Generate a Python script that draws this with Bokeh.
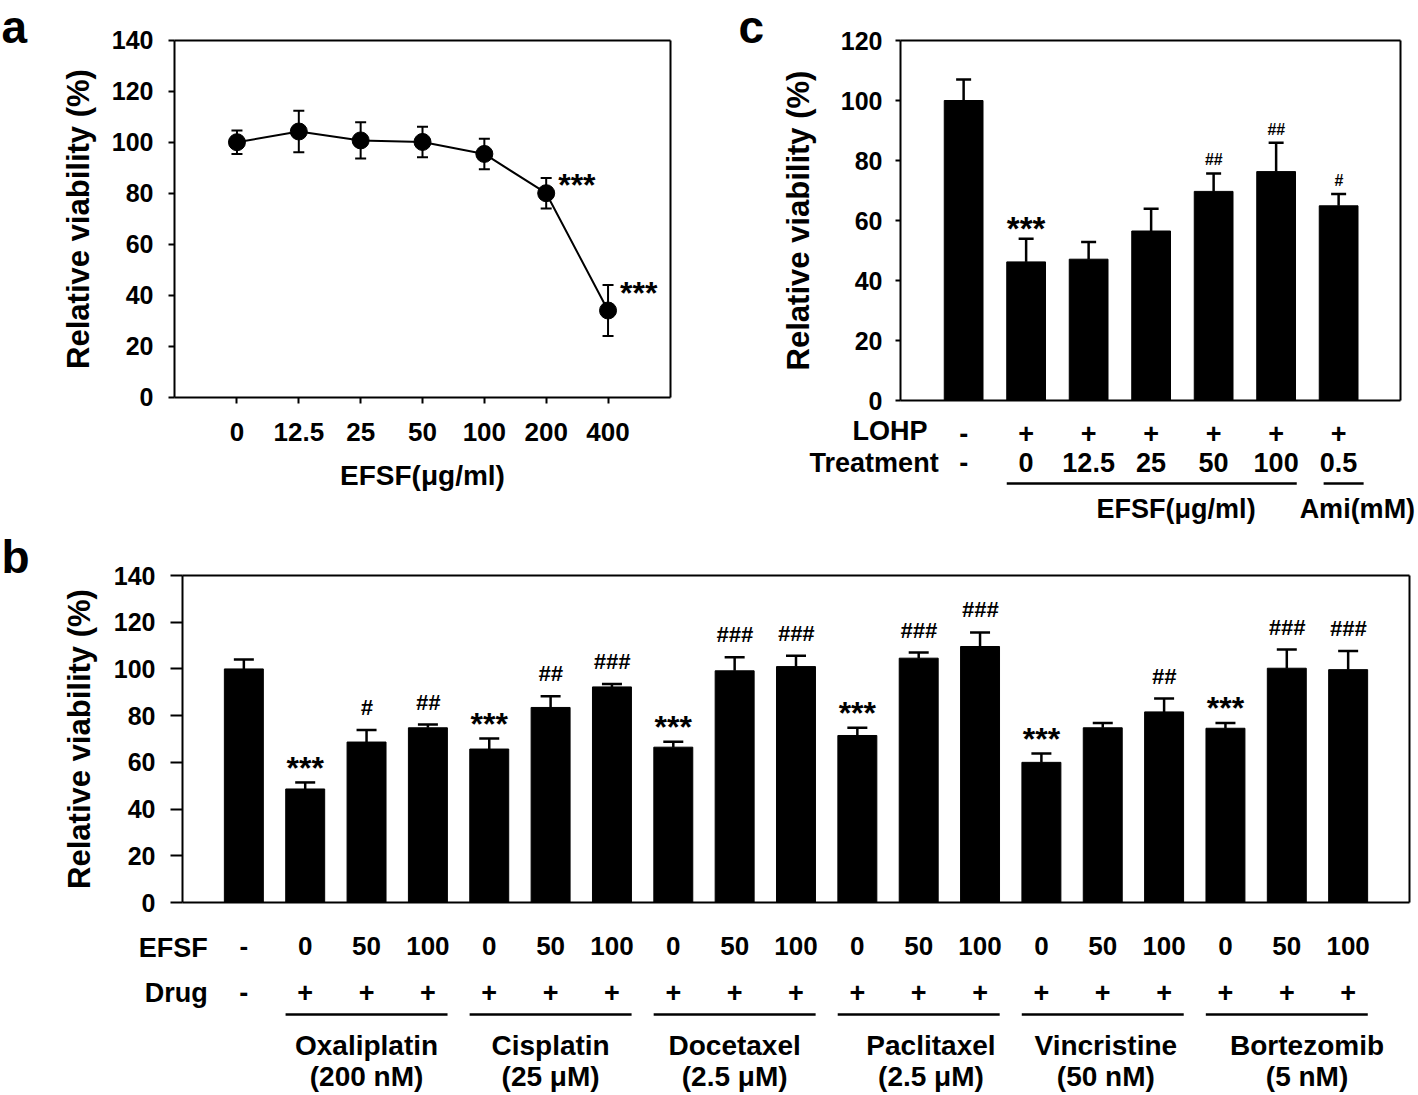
from bokeh.plotting import figure
from bokeh.models import Range1d, FixedTicker, ColumnDataSource, LabelSet, LinearAxis
from bokeh.layouts import column, row
from bokeh.embed import file_html
from bokeh.resources import INLINE
from bokeh.core.properties import value

FONT = "Liberation Sans"

# ---------------- data ----------------
# panel a
a_doses = ["0", "12.5", "25", "50", "100", "200", "400"]
a_mean = [100.0, 104.2, 100.7, 100.1, 95.4, 80.0, 34.0]
a_err = [4.6, 8.1, 7.1, 6.0, 6.0, 6.0, 10.0]
a_sig = ["", "", "", "", "", "***", "***"]

# panel c
c_lohp = ["-", "+", "+", "+", "+", "+", "+"]
c_treat = ["-", "0", "12.5", "25", "50", "100", "0.5"]
c_mean = [100.0, 46.2, 47.1, 56.5, 69.7, 76.3, 64.9]
c_err = [7.0, 7.7, 5.7, 7.4, 6.0, 9.6, 3.9]
c_sig = ["", "***", "", "", "##", "##", "#"]
c_groups = ["EFSF(\u03bcg/ml)", "Ami(mM)"]
c_group_first = [1, 6]
c_group_last = [5, 6]

# panel b
b_efsf = ["-"] + ["0", "50", "100"] * 6
b_drug = ["-"] + ["+"] * 18
b_mean = [100.0, 48.6, 68.7, 74.8, 65.7, 83.5, 92.3, 66.5, 99.2, 101.0,
          71.5, 104.6, 109.6, 60.0, 74.8, 81.6, 74.6, 100.3, 99.7]
b_err = [4.0, 2.8, 5.2, 1.4, 4.5, 4.8, 1.2, 2.3, 5.8, 4.6,
         3.3, 2.4, 6.0, 3.8, 2.1, 5.7, 2.3, 8.0, 8.0]
b_sig = ["", "***", "#", "##", "***", "##", "###", "***", "###", "###",
         "***", "###", "###", "***", "", "##", "***", "###", "###"]
b_drugs = ["Oxaliplatin", "Cisplatin", "Docetaxel", "Paclitaxel", "Vincristine", "Bortezomib"]
b_conc = ["(200 nM)", "(25 \u03bcM)", "(2.5 \u03bcM)", "(2.5 \u03bcM)", "(50 nM)", "(5 nM)"]
b_group_first = [1, 4, 7, 10, 13, 16]
b_group_last = [3, 6, 9, 12, 15, 18]


# ---------------- helpers ----------------
class Panel:
    """Figure whose frame fills the whole canvas; the plot box sits at box_px."""

    def __init__(self, w, h, box_px, box_data):
        l, r, t, b = box_px
        x0, x1, y0, y1 = box_data
        self.box = box_data
        self.top_px = t
        self.kx = (r - l) / (x1 - x0)
        self.ky = (b - t) / (y1 - y0)
        xr = (x0 - l / self.kx, x1 + (w - r) / self.kx)
        yr = (y0 - (h - b) / self.ky, y1 + t / self.ky)
        self.xr, self.yr = xr, yr
        p = figure(width=w, height=h, x_range=Range1d(*xr), y_range=Range1d(*yr),
                   output_backend="svg", toolbar_location=None,
                   min_border_left=0, min_border_right=0,
                   min_border_top=0, min_border_bottom=0)
        p.title.visible = False
        p.outline_line_color = None
        p.xgrid.visible = False
        p.ygrid.visible = False
        p.background_fill_color = "white"
        p.border_fill_color = "white"
        self.p = p
        # axes pinned to the box edges
        self.yax = p.left[0]
        self.yax.fixed_location = x0
        self.yax.bounds = (y0, y1)
        self.xax = p.below[0]
        self.xax.fixed_location = y0
        self.xax.bounds = (x0, x1)
        for side, loc, bnds in (("above", y1, (x0, x1)), ("right", x1, (y0, y1))):
            ax = LinearAxis(fixed_location=loc, bounds=bnds, ticker=FixedTicker(ticks=[]),
                            axis_line_width=2, axis_line_color="black",
                            major_tick_out=0, major_tick_in=0, minor_tick_out=0, minor_tick_in=0,
                            major_label_text_font_size="0px")
            p.add_layout(ax, side)

    def dx(self, px):
        return px / self.kx

    def dy(self, px):
        return px / self.ky

    def y_from_top(self, px):
        """data y of a point px pixels below the canvas top"""
        return self.box[3] + (self.top_px - px) / self.ky


def style_axis(ax, tick_out, standoff, size):
    ax.axis_line_color = "black"
    ax.axis_line_width = 2
    ax.major_tick_line_color = "black"
    ax.major_tick_line_width = 2
    ax.major_tick_out = tick_out
    ax.major_tick_in = 0
    ax.minor_tick_out = 0
    ax.minor_tick_in = 0
    ax.major_label_text_font = FONT
    ax.major_label_text_font_style = "bold"
    ax.major_label_text_font_size = size
    ax.major_label_text_color = "black"
    ax.major_label_standoff = standoff


def style_ylabel(ax, standoff):
    ax.axis_label = "Relative viability (%)"
    ax.axis_label_text_font = FONT
    ax.axis_label_text_font_style = "bold"
    ax.axis_label_text_font_size = "31px"
    ax.axis_label_text_color = "black"
    ax.axis_label_standoff = standoff


def labels(p, xs, ys, texts, size, align="center", style="bold"):
    src = ColumnDataSource(dict(x=list(xs), y=list(ys), text=list(texts)))
    p.add_layout(LabelSet(x="x", y="y", text="text", source=src,
                          text_font=value(FONT), text_font_style=style,
                          text_font_size=size, text_align=align,
                          text_baseline="alphabetic", text_color="black"))


def label(p, x, y, text, size, align="left"):
    labels(p, [x], [y], [text], size, align=align)


def hlines(p, x0s, x1s, y):
    n = len(x0s)
    p.segment(x0=list(x0s), y0=[y] * n, x1=list(x1s), y1=[y] * n,
              line_color="black", line_width=2.5)


LETTER_SIZE = "46px"
LETTER_BASE = 42  # px below canvas top, keeps the whole text box on the canvas

# ---------------- panel a ----------------
A = Panel(700, 530, (174, 670, 39.7, 396.7), (-1.01, 7.01, 0, 140))
pa = A.p
ax_i = list(range(len(a_doses)))

pa.line(ax_i, a_mean, line_color="black", line_width=2)
a_cap = A.dx(5.5)
pa.segment(x0=ax_i, y0=[m - e for m, e in zip(a_mean, a_err)],
           x1=ax_i, y1=[m + e for m, e in zip(a_mean, a_err)],
           line_color="black", line_width=2)
for sgn in (1, -1):
    yy = [m + sgn * e for m, e in zip(a_mean, a_err)]
    pa.segment(x0=[i - a_cap for i in ax_i], y0=yy, x1=[i + a_cap for i in ax_i], y1=yy,
               line_color="black", line_width=2)
pa.scatter(ax_i, a_mean, size=17, marker="circle", fill_color="black", line_color="black")

sx, sy, st = [], [], []
for i, (m, e, s) in enumerate(zip(a_mean, a_err, a_sig)):
    if s:
        sx.append(i + A.dx(12))
        sy.append(m + e - A.dy(18.5))
        st.append(s)
labels(pa, sx, sy, st, "32px", align="left")

style_axis(A.yax, 6, 15, "25px")
A.yax.ticker = FixedTicker(ticks=list(range(0, 141, 20)))
style_ylabel(A.yax, 13)

style_axis(A.xax, 6, 20, "26px")
A.xax.ticker = FixedTicker(ticks=ax_i)
A.xax.major_label_overrides = {i: t for i, t in zip(ax_i, a_doses)}
A.xax.axis_label = "EFSF(\u03bcg/ml)"
A.xax.axis_label_text_font = FONT
A.xax.axis_label_text_font_style = "bold"
A.xax.axis_label_text_font_size = "28px"
A.xax.axis_label_text_color = "black"
A.xax.axis_label_standoff = 15

label(pa, A.xr[0] + A.dx(1), A.y_from_top(LETTER_BASE), "a", LETTER_SIZE)

# ---------------- panel c ----------------
C = Panel(716, 530, (200, 700, 40, 400), (-1.01, 6.99, 0, 120))
pc = C.p
cx_i = list(range(len(c_mean)))

pc.vbar(x=cx_i, top=c_mean, width=0.62, bottom=0, fill_color="black", line_color="black")
c_cap = C.dx(7.5)
c_top = [m + e for m, e in zip(c_mean, c_err)]
pc.segment(x0=cx_i, y0=c_mean, x1=cx_i, y1=c_top, line_color="black", line_width=2.5)
pc.segment(x0=[i - c_cap for i in cx_i], y0=c_top, x1=[i + c_cap for i in cx_i], y1=c_top,
           line_color="black", line_width=2.5)

stx, sty, stt, hx, hy, ht = [], [], [], [], [], []
for i, (t, s) in enumerate(zip(c_top, c_sig)):
    if s.startswith("*"):
        stx.append(i); sty.append(t - C.dy(1.5)); stt.append(s)
    elif s:
        hx.append(i); hy.append(t + C.dy(8)); ht.append(s)
labels(pc, stx, sty, stt, "33px")
labels(pc, hx, hy, ht, "16px", style="bold italic")

style_axis(C.yax, 5, 13, "25px")
C.yax.ticker = FixedTicker(ticks=list(range(0, 121, 20)))
style_ylabel(C.yax, 22)

style_axis(C.xax, 0, 23, "27px")
C.xax.ticker = FixedTicker(ticks=cx_i)
C.xax.major_label_overrides = {i: t for i, t in zip(cx_i, c_lohp)}

label(pc, -0.578, -C.dy(39.7), "LOHP", "27px", align="right")
label(pc, -0.40, -C.dy(71.7), "Treatment", "27px", align="right")
labels(pc, cx_i, [-C.dy(71.7)] * len(cx_i), c_treat, "27px")
c_pad_l = [0.31, 0.24]
c_pad_r = [0.33, 0.40]
hlines(pc, [f - pl for f, pl in zip(c_group_first, c_pad_l)],
       [l + pr for l, pr in zip(c_group_last, c_pad_r)], -C.dy(83))
c_label_x = [3.4, 6.3]
labels(pc, c_label_x, [-C.dy(117.7)] * 2, c_groups, "27px")

label(pc, C.xr[0] + C.dx(38), C.y_from_top(LETTER_BASE), "c", LETTER_SIZE)

# ---------------- panel b ----------------
B = Panel(1416, 564, (182, 1409, 45, 372), (-1.0, 19.0, 0, 140))
pb = B.p
bx_i = list(range(len(b_mean)))

pb.vbar(x=bx_i, top=b_mean, width=0.635, bottom=0, fill_color="black", line_color="black")
b_cap = B.dx(10)
b_top = [m + e for m, e in zip(b_mean, b_err)]
pb.segment(x0=bx_i, y0=b_mean, x1=bx_i, y1=b_top, line_color="black", line_width=2.5)
pb.segment(x0=[i - b_cap for i in bx_i], y0=b_top, x1=[i + b_cap for i in bx_i], y1=b_top,
           line_color="black", line_width=2.5)

stx, sty, stt, hx, hy, ht = [], [], [], [], [], []
for i, (t, s) in enumerate(zip(b_top, b_sig)):
    if s.startswith("*"):
        stx.append(i); sty.append(t + B.dy(3.5)); stt.append(s)
    elif s:
        hx.append(i); hy.append(t + B.dy(15)); ht.append(s)
labels(pb, stx, sty, stt, "32px")
labels(pb, hx, hy, ht, "22px", style="bold italic")

style_axis(B.yax, 12, 15, "25px")
B.yax.ticker = FixedTicker(ticks=list(range(0, 141, 20)))
style_ylabel(B.yax, 14)

style_axis(B.xax, 0, 34, "26px")
B.xax.ticker = FixedTicker(ticks=bx_i)
B.xax.major_label_overrides = {i: t for i, t in zip(bx_i, b_efsf)}

label(pb, -0.59, -B.dy(54.7), "EFSF", "27px", align="right")
label(pb, -0.59, -B.dy(99.7), "Drug", "27px", align="right")
labels(pb, bx_i, [-B.dy(99.5)] * len(bx_i), b_drug, "27px")
hlines(pb, [f - 0.32 for f in b_group_first], [l + 0.32 for l in b_group_last], -B.dy(112))
b_label_shift = [0.0, 0.0, 0.0, 0.2, 0.05, 0.33]
b_centers = [(f + l) / 2 + s for f, l, s in zip(b_group_first, b_group_last, b_label_shift)]
labels(pb, b_centers, [-B.dy(152.5)] * 6, b_drugs, "28px")
labels(pb, b_centers, [-B.dy(183)] * 6, b_conc, "28px")

label(pb, B.xr[0] + B.dx(1), B.y_from_top(LETTER_BASE), "b", LETTER_SIZE)

layout = column(row(pa, pc), pb)
open("out.html", "w").write(file_html(layout, INLINE))
